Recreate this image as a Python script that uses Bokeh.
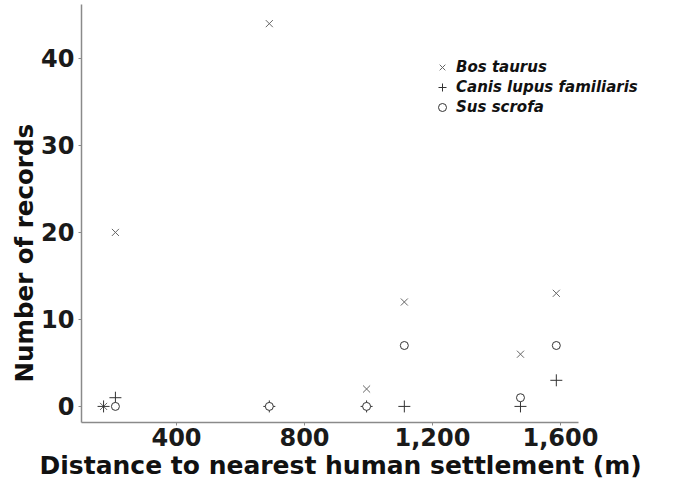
from bokeh.plotting import figure
from bokeh.models import Range1d, FixedTicker, NumeralTickFormatter, Legend, LegendItem, ColumnDataSource, Title
from bokeh.embed import file_html
from bokeh.resources import INLINE

nan = float("nan")

# Data
distance = [172, 209, 690, 994, 1112, 1475, 1587]
bos_taurus = [0, 20, 44, 2, 12, 6, 13]
canis_lupus = [0, 1, 0, 0, 0, 0, 3]
sus_scrofa = [nan, 0, 0, 0, 7, 1, 7]

x_ticks = [400, 800, 1200, 1600]
y_ticks = [0, 10, 20, 30, 40]

species = ["Bos taurus", "Canis lupus familiaris", "Sus scrofa"]
x_title = "Distance to nearest human settlement (m)"
y_title = "Number of records"

src = ColumnDataSource(dict(x=distance, bos=bos_taurus, canis=canis_lupus, sus=sus_scrofa))

p = figure(width=663, height=479, output_backend="svg", toolbar_location=None,
           x_range=Range1d(103, 1872), y_range=Range1d(-1.85, 46.2),
           min_border_left=81, min_border_top=4, min_border_right=16, min_border_bottom=40)
p.outline_line_color = None
p.grid.visible = False
p.background_fill_color = "white"

r_bos = p.scatter("x", "bos", source=src, marker="x", size=10, line_color="#666666", line_width=1)
r_canis = p.scatter("x", "canis", source=src, marker="cross", size=12, line_color="#333333", line_width=1)
r_sus = p.scatter("x", "sus", source=src, marker="circle", size=8, fill_color="white",
                  line_color="#333333", line_width=1)

for ax in (p.xaxis[0], p.yaxis[0]):
    ax.axis_line_color = "#8a8a8a"
    ax.axis_line_width = 1.5
    ax.major_tick_line_color = "#8a8a8a"
    ax.major_tick_out = 3
    ax.major_tick_in = 0
    ax.minor_tick_line_color = None
    ax.major_label_text_font = "DejaVu Sans"
    ax.major_label_text_font_style = "bold"
    ax.major_label_text_font_size = "24px"
    ax.major_label_text_color = "#1a1a1a"

p.xaxis.ticker = FixedTicker(ticks=x_ticks)
p.yaxis.ticker = FixedTicker(ticks=y_ticks)
p.xaxis.formatter = NumeralTickFormatter(format="0,0")
p.xaxis.bounds = (103, 1656)
p.xaxis.major_label_standoff = 2
p.yaxis.major_label_standoff = 4

xt = Title(text=x_title, align="left", offset=-42, standoff=0,
           text_font="DejaVu Sans", text_font_style="bold", text_font_size="25px",
           text_color="#111111")
p.add_layout(xt, "below")

yt = Title(text=y_title, align="left", offset=40, standoff=0,
           text_font="DejaVu Sans", text_font_style="bold", text_font_size="24.5px",
           text_color="#111111")
p.add_layout(yt, "left")

legend = Legend(items=[LegendItem(label=species[0], renderers=[r_bos]),
                       LegendItem(label=species[1], renderers=[r_canis]),
                       LegendItem(label=species[2], renderers=[r_sus])],
                location=(350, 305))
legend.background_fill_alpha = 0
legend.border_line_color = None
legend.padding = 0
legend.margin = 0
legend.spacing = 0
legend.glyph_width = 22
legend.glyph_height = 20
legend.label_height = 20
legend.label_standoff = 3
legend.label_text_font = "DejaVu Sans"
legend.label_text_font_style = "bold italic"
legend.label_text_font_size = "15px"
legend.label_text_color = "#111111"
p.add_layout(legend)

open("out.html", "w").write(file_html(p, INLINE))
